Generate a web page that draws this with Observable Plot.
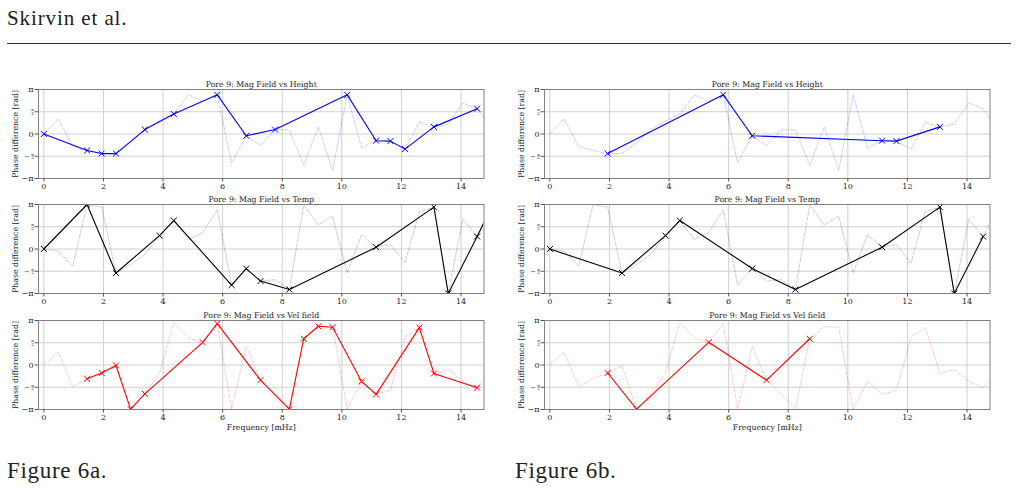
<!DOCTYPE html>
<html><head><meta charset="utf-8">
<script src="https://cdn.jsdelivr.net/npm/d3@7"></script>
<script src="https://cdn.jsdelivr.net/npm/@observablehq/plot@0.6"></script>
<style>
body{margin:0;background:#fff;width:1018px;height:491px;position:relative;overflow:hidden;color:#222}
#rule{position:absolute;left:7px;top:42.5px;width:1004px;height:1px;background:#333}
.panel{position:absolute}
.panel svg{overflow:visible}
</style>
</head><body>
<div style="position:absolute;left:7px;top:8.4px;font-size:21px;line-height:1;letter-spacing:0.9px;white-space:nowrap;font-family:'Liberation Serif'">Skirvin et al.</div>
<div id="rule"></div>
<div style="position:absolute;left:7px;top:458.7px;font-size:23px;line-height:1;letter-spacing:0.7px;white-space:nowrap;font-family:'Liberation Serif'">Figure 6a.</div>
<div style="position:absolute;left:515px;top:458.7px;font-size:23px;line-height:1;letter-spacing:0.7px;white-space:nowrap;font-family:'Liberation Serif'">Figure 6b.</div>
<script>
// Frequency bins [mHz]
const freq = [0, 0.48, 0.97, 1.45, 1.94, 2.42, 2.91, 3.39, 3.88, 4.36, 4.85, 5.33, 5.82, 6.30, 6.79, 7.27,
              7.76, 8.24, 8.72, 9.21, 9.69, 10.18, 10.66, 11.15, 11.63, 12.12, 12.60, 13.09, 13.57, 14.06, 14.54, 15.03];
// Phase differences, in units of pi
const heightPhase = [0, 0.34, -0.28, -0.37, -0.44, -0.44, -0.2, 0.1, 0.3, 0.45, 0.88, 0.73, 0.88, -0.65, -0.04, -0.26,
                     0.1, 0.09, -0.7, 0.16, -0.82, 0.88, -0.31, -0.15, -0.16, -0.34, 0.26, 0.16, 0.22, 0.7, 0.57, 0.1];
const tempPhase = [0, -0.05, -0.38, 1.0, 0.94, -0.54, -0.35, -0.12, 0.30, 0.64, 0.21, 0.37, 0.88, -0.81, -0.44, -0.72,
                   -0.69, -0.91, 0.99, 0.54, 0.74, -0.54, 0.32, 0.04, 0.1, -0.31, 0.84, 0.94, -1.0, 0.67, 0.28, 0.95];
const velPhase = [0, 0.29, -0.49, -0.31, -0.18, -0.01, -0.99, -0.65, -0.18, 0.96, 0.6, 0.51, 0.93, -0.99, 0.42, -0.34,
                  -0.66, -0.99, 0.59, 0.87, 0.85, -0.99, -0.37, -0.66, -0.57, 0.63, 0.84, -0.19, -0.1, -0.37, -0.51, -0.1];
// Selected (significant) bins, figure 6a and 6b
const heightSelA = [0, 3, 4, 5, 7, 9, 12, 14, 16, 21, 23, 24, 25, 27, 30];
const tempSelA = [0, 3, 5, 8, 9, 13, 14, 15, 17, 23, 27, 28, 30, 31];
const velSelA = [3, 4, 5, 6, 7, 11, 12, 15, 17, 18, 19, 20, 22, 23, 26, 27, 30];
const heightSelB = [4, 12, 14, 23, 24, 27];
const tempSelB = [0, 5, 8, 9, 14, 17, 23, 27, 28, 30];
const velSelB = [4, 6, 11, 15, 18];
const titles = ["Pore 9: Mag Field vs Height", "Pore 9: Mag Field vs Temp", "Pore 9: Mag Field vs Vel field"];
const colors = ["#0000ff", "#000000", "#ff0000"];
const xTicks = [0, 2, 4, 6, 8, 10, 12, 14];
const yTicks = [-1, -0.5, 0, 0.5, 1];

const series = [heightPhase, tempPhase, velPhase];
const sels = [[heightSelA, tempSelA, velSelA], [heightSelB, tempSelB, velSelB]];
const colLeft = [0, 506.3];
const rowTop = [74.3, 189.3, 305];

function panel(values, sel, color, title, withXLabel) {
  const all = freq.map((f, i) => ({f, v: values[i]}));
  const s = sel.map(i => all[i]);
  const font = 7.8;
  return Plot.plot({
    width: 490,
    height: withXLabel ? 132 : 118,
    marginLeft: 38, marginRight: 6.5, marginTop: 15, marginBottom: withXLabel ? 28 : 14,
    style: {fontFamily: "DejaVu Serif", fontSize: font + "px", background: "transparent", color: "#222"},
    x: {domain: [-0.18, 14.77]},
    y: {domain: [-1, 1]},
    marks: [
      Plot.gridX(xTicks, {stroke: "#cfcfcf", strokeOpacity: 1, strokeWidth: 1}),
      Plot.gridY(yTicks, {stroke: "#cfcfcf", strokeOpacity: 1, strokeWidth: 1}),
      Plot.line(all, {x: "f", y: "v", stroke: color, strokeOpacity: 0.2, strokeWidth: 1, strokeDasharray: "3.7,1.6", clip: true}),
      Plot.line(s, {x: "f", y: "v", stroke: color, strokeWidth: 1.1, clip: true}),
      Plot.dot(s, {x: "f", y: "v", symbol: "times", stroke: color, r: 2.8, strokeWidth: 1, clip: true}),
      Plot.frame({stroke: "#808080", strokeWidth: 1}),
      Plot.axisX(xTicks, {tickSize: 3.5, tickPadding: 1.5, stroke: "#555", label: null, fontSize: 8}),
      Plot.axisY(yTicks, {tickSize: 3.5, tickPadding: 1.5, stroke: "#555", label: null, fontSize: 8,
        tickFormat: d => d === 1 ? "π" : d === -1 ? "−π" : d === 0 ? "0" : ""}),
      Plot.text([0.5, -0.5], {y: d => d, frameAnchor: "left", dx: -6, text: () => "π\n2", fontSize: 4, lineHeight: 0.95, textAnchor: "middle", lineAnchor: "middle"}),
      Plot.text([-0.5], {y: d => d, frameAnchor: "left", dx: -11.5, text: () => "−", fontSize: 7, textAnchor: "middle", lineAnchor: "middle"}),
      Plot.text([title], {frameAnchor: "top", dy: -3, lineAnchor: "bottom", fontSize: font}),
      Plot.text(["Phase difference [rad]"], {frameAnchor: "left", dx: -23, rotate: -90, fontSize: font, lineAnchor: "middle", textAnchor: "middle"}),
      withXLabel ? Plot.text(["Frequency [mHz]"], {frameAnchor: "bottom", dy: 17.5, lineAnchor: "middle", fontSize: font}) : null
    ]
  });
}

for (let c = 0; c < 2; c++) {
  for (let r = 0; r < 3; r++) {
    const div = document.createElement("div");
    div.className = "panel";
    div.style.left = colLeft[c] + "px";
    div.style.top = rowTop[r] + "px";
    div.appendChild(panel(series[r], sels[c][r], colors[r], titles[r], r === 2));
    document.body.appendChild(div);
  }
}
</script>
</body></html>
